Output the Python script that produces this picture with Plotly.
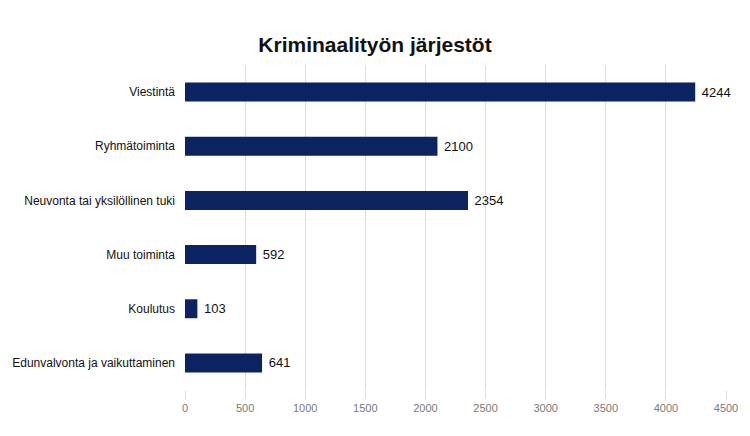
import plotly.graph_objects as go

categories = ["Viestintä", "Ryhmätoiminta", "Neuvonta tai yksilöllinen tuki",
              "Muu toiminta", "Koulutus", "Edunvalvonta ja vaikuttaminen"]
values = [4244, 2100, 2354, 592, 103, 641]
tick_vals = [0, 500, 1000, 1500, 2000, 2500, 3000, 3500, 4000, 4500]

fig = go.Figure(go.Bar(
    y=categories, x=values, orientation="h",
    marker=dict(color="#0b2461", line=dict(width=0)),
    width=0.35,
    text=[" " + str(v) for v in values], textposition="outside",
    textfont=dict(family="Liberation Sans, Arial, sans-serif", size=13, color="#111111"),
    cliponaxis=False,
))

fig.update_layout(
    width=750, height=436,
    margin=dict(l=185, r=20, t=65, b=46),
    paper_bgcolor="white", plot_bgcolor="white",
    title=dict(text="<b>Kriminaalityön järjestöt</b>", x=0.5, xanchor="center",
               y=1 - 45/436, yanchor="middle",
               font=dict(family="Liberation Sans, Arial, sans-serif", size=21, color="#111111")),
    showlegend=False,
    font=dict(family="Liberation Sans, Arial, sans-serif"),
)
fig.update_xaxes(range=[0, 4500], tickvals=tick_vals, showgrid=True, gridcolor="#dcdcdc",
                 gridwidth=1, zeroline=False, ticks="outside", ticklen=8, tickcolor="#dcdcdc",
                 tickfont=dict(size=11, color="#7a7a7a"), showline=False)
fig.update_yaxes(categoryorder="array", categoryarray=categories, autorange="reversed",
                 tickfont=dict(size=12, color="#111111"), showgrid=False, ticks="",
                 ticklabelstandoff=9)

fig.write_html("out.html")
